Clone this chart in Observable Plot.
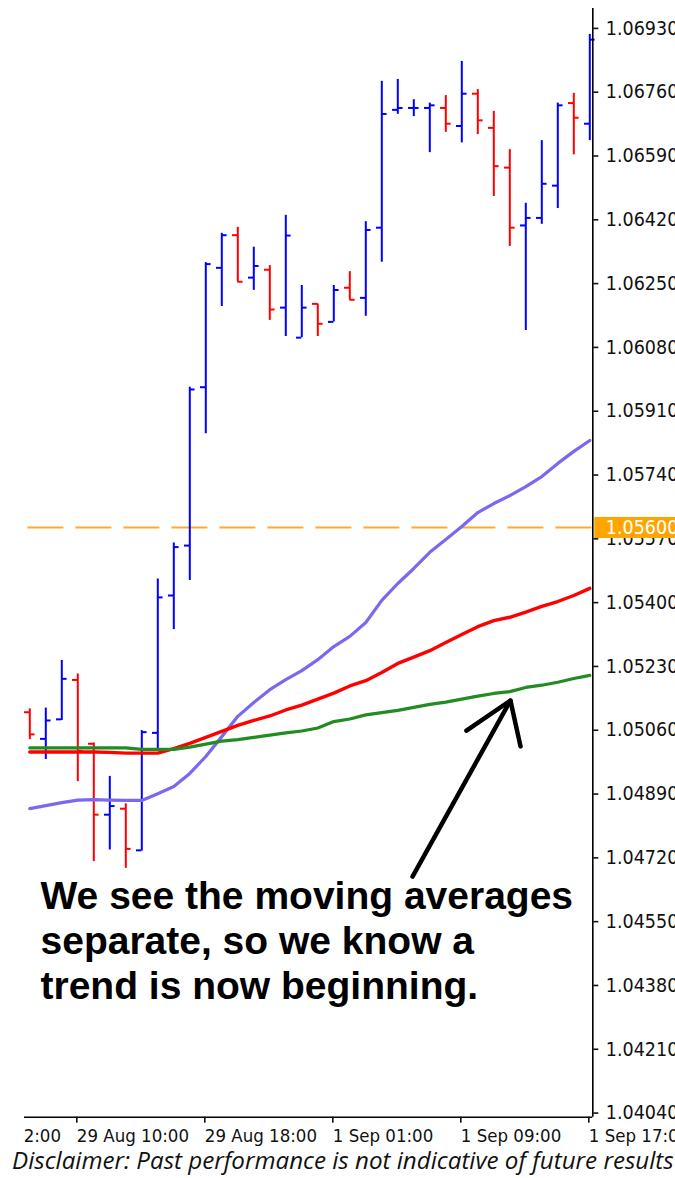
<!DOCTYPE html>
<html><head><meta charset="utf-8">
<script src="https://cdn.jsdelivr.net/npm/d3@7"></script>
<script src="https://cdn.jsdelivr.net/npm/@observablehq/plot@0.6"></script>
<style>
html,body{margin:0;padding:0;background:#fff;width:675px;height:1178px;overflow:hidden;}
#chart{position:absolute;left:24px;top:0;width:651px;height:1150px;overflow:hidden;}
#chart svg{overflow:hidden;}
#disclaimer{position:absolute;left:12px;top:1150px;font-family:"Open Sans",Lato,sans-serif;font-style:italic;font-size:20px;line-height:0.8;white-space:nowrap;color:#111;}
</style></head><body>
<div id="chart"></div>
<div id="disclaimer">Disclaimer: Past performance is not indicative of future results</div>
<script>
// Hourly bars (bar index 0..35)
const open  = [1.05108,1.05037,1.05089,1.05194,1.05024,1.04835,1.04851,1.04740,1.05053,1.05419,1.05552,1.05974,1.06292,1.06379,1.06266,1.06287,1.06186,1.06106,1.06196,1.06148,1.06239,1.06212,1.06399,1.06713,1.06718,1.06718,1.06718,1.06670,1.06756,1.06665,1.06559,1.06405,1.06425,1.06511,1.06731,1.06676];
const high  = [1.05117,1.05119,1.05246,1.05210,1.05026,1.04937,1.04864,1.05059,1.05463,1.05559,1.05974,1.06306,1.06384,1.06400,1.06347,1.06298,1.06432,1.06245,1.06196,1.06245,1.06282,1.06415,1.06789,1.06794,1.06740,1.06731,1.06751,1.06842,1.06767,1.06709,1.06607,1.06464,1.06631,1.06731,1.06757,1.06914];
const low   = [1.05035,1.04982,1.05086,1.04923,1.04710,1.04741,1.04692,1.04738,1.05011,1.05328,1.05459,1.05850,1.06189,1.06255,1.06232,1.06152,1.06109,1.06106,1.06109,1.06148,1.06207,1.06163,1.06307,1.06701,1.06695,1.06599,1.06653,1.06625,1.06647,1.06482,1.06349,1.06125,1.06408,1.06450,1.06593,1.06631];
const close = [1.05049,1.05086,1.05197,1.05005,1.04835,1.04858,1.04744,1.05055,1.05414,1.05548,1.05968,1.06302,1.06379,1.06255,1.06297,1.06181,1.06378,1.06186,1.06143,1.06233,1.06207,1.06393,1.06702,1.06718,1.06718,1.06725,1.06676,1.06756,1.06685,1.06563,1.06399,1.06425,1.06516,1.06725,1.06692,1.06900];

// Moving averages
const maPurple = [1.04851,1.04859,1.04867,1.04874,1.04875,1.04874,1.04873,1.04873,1.04891,1.04910,1.04945,1.04990,1.05043,1.05097,1.05134,1.05168,1.05195,1.05219,1.05248,1.05283,1.05310,1.05347,1.05406,1.05451,1.05491,1.05534,1.05568,1.05603,1.05640,1.05664,1.05685,1.05709,1.05736,1.05771,1.05803,1.05832];
const maRed    = [1.05002,1.05002,1.05002,1.05002,1.05002,1.05001,1.04999,1.04999,1.04999,1.05011,1.05025,1.05041,1.05057,1.05073,1.05086,1.05098,1.05114,1.05127,1.05143,1.05159,1.05178,1.05192,1.05214,1.05238,1.05255,1.05272,1.05294,1.05315,1.05336,1.05352,1.05361,1.05375,1.05390,1.05403,1.05419,1.05438];
const maGreen  = [1.05013,1.05013,1.05013,1.05013,1.05013,1.05013,1.05013,1.05009,1.05009,1.05009,1.05015,1.05023,1.05031,1.05035,1.05041,1.05047,1.05053,1.05058,1.05066,1.05083,1.05090,1.05101,1.05107,1.05113,1.05121,1.05129,1.05135,1.05143,1.05151,1.05158,1.05163,1.05174,1.05180,1.05188,1.05198,1.05206];

// Axis ticks
const yTicks = [1.0404,1.0421,1.0438,1.0455,1.0472,1.0489,1.0506,1.0523,1.0540,1.0557,1.0574,1.0591,1.0608,1.0625,1.0642,1.0659,1.0676,1.0693];
const xTickIdx = [-5, 3, 11, 19, 27, 35];
const xTickLabels = ["29 Aug 02:00","29 Aug 10:00","29 Aug 18:00","1 Sep 01:00","1 Sep 09:00","1 Sep 17:00"];

const levelPrice = 1.05600;
const annotationLines = ["We see the moving averages","separate, so we know a","trend is now beginning."];
const annotationAnchor = {i: 0.67, price: 1.04668};
const arrowShaft = [{i: 23.92, price: 1.04670}, {i: 30.04, price: 1.05139}];
const arrowHead  = [{i: 27.29, price: 1.05059}, {i: 30.04, price: 1.05139}, {i: 30.67, price: 1.05017}];

const xDomain = [-0.331, 35.1875];
const yDomain = [1.04029, 1.06983];

const bars = open.map((o, i) => ({i, open: o, high: high[i], low: low[i], close: close[i], up: close[i] >= o}));
const barColor = d => d.up ? "#0000FF" : "#FF0000";
const series = (vals) => vals.map((v, i) => ({i, v}));
const xLabel = new Map(xTickIdx.map((d, k) => [d, xTickLabels[k]]));

const plot = Plot.plot({
  width: 651, height: 1150,
  marginLeft: 0, marginRight: 82.7, marginTop: 8, marginBottom: 33.3,
  style: {fontFamily: "'DejaVu Sans Condensed','DejaVu Sans',sans-serif", fontSize: "18.5px", background: "#fff", color: "#111", overflow: "hidden"},
  x: {type: "linear", domain: xDomain, axis: null},
  y: {domain: yDomain, axis: null},
  marks: [
    Plot.ruleY([levelPrice], {stroke: "#FFAA2E", strokeWidth: 2, strokeDasharray: "36,12", strokeDashoffset: 44.6}),
    Plot.ruleX(bars, {x: "i", y1: "low", y2: "high", stroke: barColor, strokeWidth: 2}),
    Plot.ruleY(bars, {y: "open", x1: d => d.i - 0.33, x2: "i", stroke: barColor, strokeWidth: 2}),
    Plot.ruleY(bars, {y: "close", x1: "i", x2: d => d.i + 0.33, stroke: barColor, strokeWidth: 2}),
    Plot.line(series(maPurple), {x: "i", y: "v", stroke: "#7B68EE", strokeWidth: 3.2}),
    Plot.line(series(maRed), {x: "i", y: "v", stroke: "#FF0000", strokeWidth: 3.4}),
    Plot.line(series(maGreen), {x: "i", y: "v", stroke: "#228B22", strokeWidth: 3.2}),
    Plot.ruleX([xDomain[1]], {stroke: "#000", strokeWidth: 1.6}),
    Plot.ruleY([yDomain[0]], {stroke: "#000", strokeWidth: 1.6}),
    Plot.axisY({anchor: "right", ticks: yTicks, tickFormat: d3.format(".5f"), tickSize: 5, tickPadding: 8, strokeWidth: 1.6, fontSize: 19.5, label: null}),
    Plot.axisX({anchor: "bottom", ticks: xTickIdx, tickFormat: d => xLabel.get(d), tickSize: 6, tickPadding: 6, textAnchor: "start", dx: -1, strokeWidth: 1.6, label: null}),
    Plot.ruleY([levelPrice], {x1: xDomain[1], x2: xDomain[1] + 6, dx: 2, stroke: "#FFA500", strokeWidth: 21}),
    Plot.text([levelPrice], {x: xDomain[1], y: d => d, text: d => d.toFixed(5), dx: 13, textAnchor: "start", fill: "#fff", fontSize: 19.5}),
    Plot.line(arrowShaft, {x: "i", y: "price", stroke: "#000", strokeWidth: 4.5, strokeLinecap: "round"}),
    Plot.line(arrowHead, {x: "i", y: "price", stroke: "#000", strokeWidth: 4.5, strokeLinecap: "round", strokeLinejoin: "round"}),
    Plot.text([annotationAnchor], {x: "i", y: "price", text: () => annotationLines.join("\n"), textAnchor: "start", lineAnchor: "top", lineHeight: 1.15, fontSize: 39, fontWeight: "bold", fontFamily: "'Liberation Sans',Arial,sans-serif", fill: "#000"})
  ]
});
document.getElementById("chart").appendChild(plot);

// size the caption so it spans the same width as in the original (it runs off the right edge)
const disc = document.getElementById("disclaimer");
const w = disc.getBoundingClientRect().width;
const fs = 20 * 662 / w;
disc.style.fontSize = fs.toFixed(2) + "px";
disc.style.top = (1169 - 0.788 * fs).toFixed(1) + "px";
</script>
</body></html>
